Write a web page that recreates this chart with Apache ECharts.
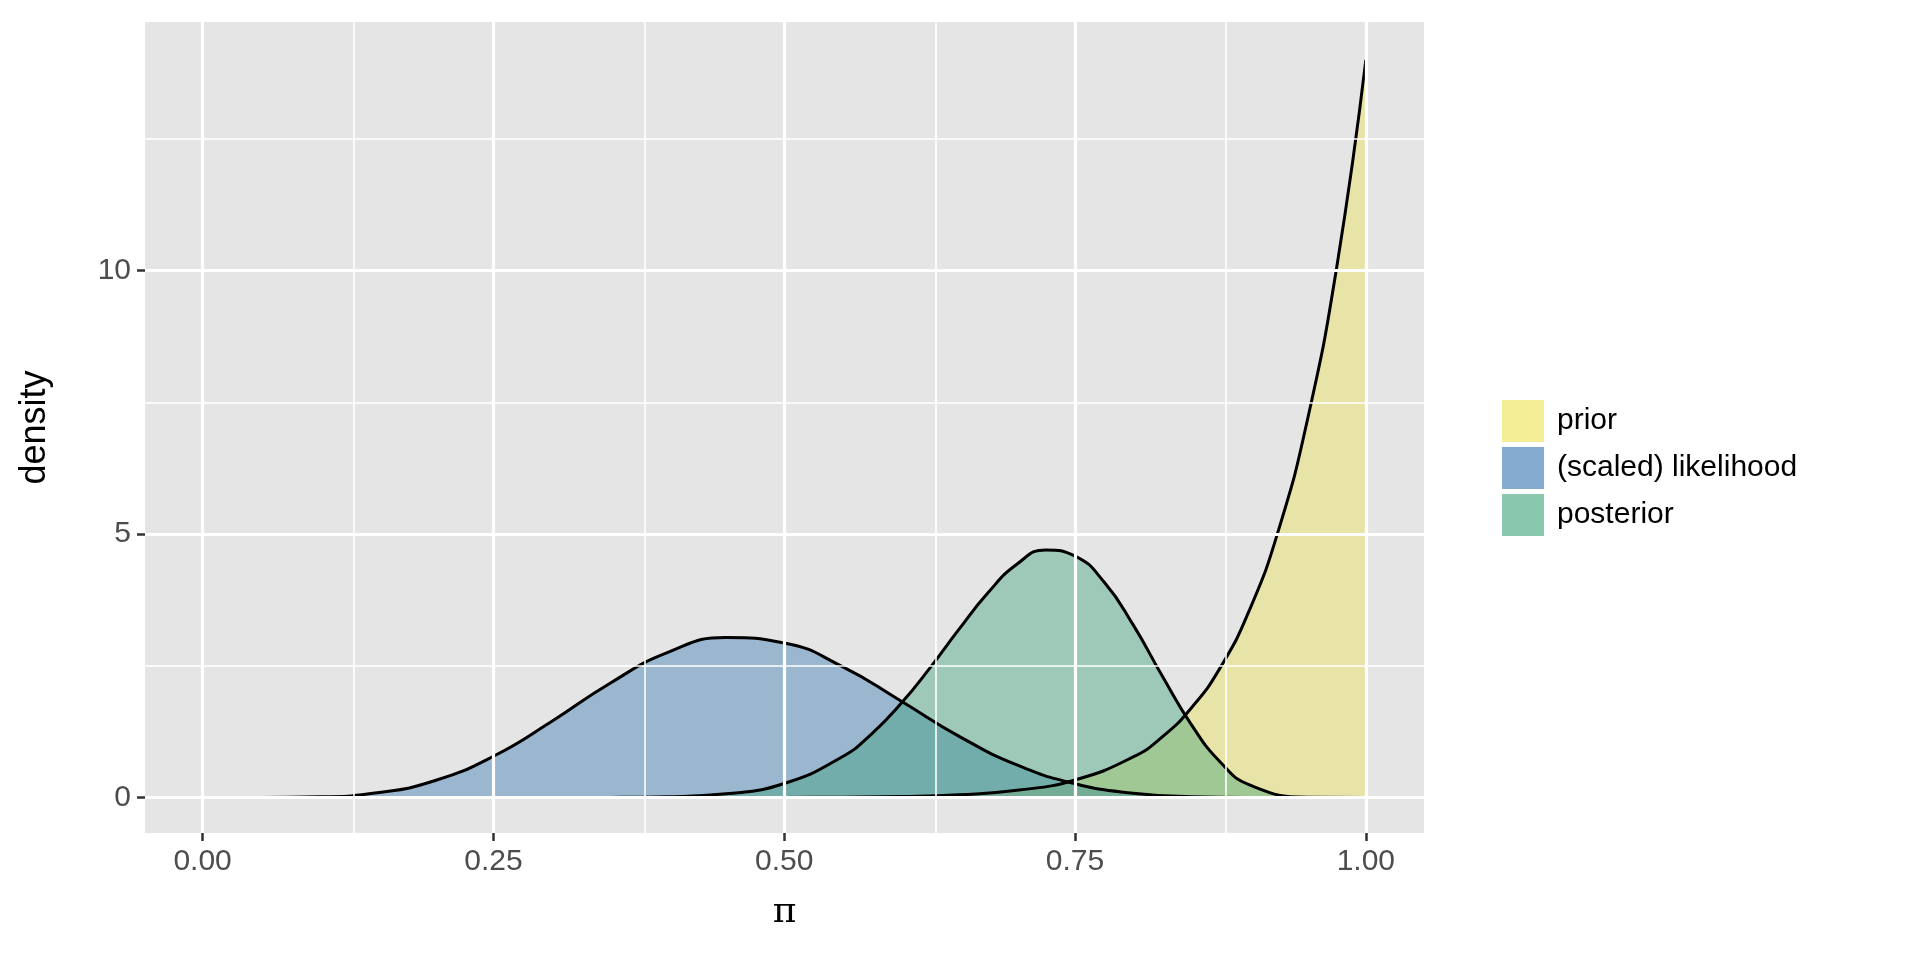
<!DOCTYPE html>
<html lang="en">
<head>
<meta charset="UTF-8">
<title>Prior, likelihood, posterior</title>
<script src="https://cdn.jsdelivr.net/npm/echarts@6/dist/echarts.min.js"></script>
<style>
  html, body { margin: 0; padding: 0; background: #fff; }
  #chart { width: 1920px; height: 960px; }
</style>
</head>
<body>
<div id="chart"></div>
<script>
    // values
    var priorPts = [[0, 0], [0.45, 0], [0.5, 0.002], [0.55, 0.006], [0.6, 0.018], [0.65, 0.052], [0.7, 0.136],
        [0.75, 0.333], [0.8, 0.77], [0.825, 1.15], [0.85, 1.70], [0.875, 2.47], [0.9, 3.56],
        [0.925, 5.08], [0.95, 7.19], [0.975, 10.07], [1, 14]];
    var likePts = [[0, 0], [0.05, 0], [0.1, 0.012], [0.15, 0.088], [0.2, 0.322], [0.25, 0.783], [0.3, 1.443],
        [0.35, 2.165], [0.4, 2.754], [0.45, 3.036], [0.5, 2.933], [0.55, 2.485], [0.6, 1.837],
        [0.65, 1.166], [0.7, 0.618], [0.75, 0.261], [0.8, 0.081], [0.85, 0.016], [0.9, 0.001], [0.95, 0], [1, 0]];
    var postPts = [[0, 0], [0.3, 0], [0.35, 0.002], [0.4, 0.014], [0.45, 0.07], [0.5, 0.265], [0.55, 0.774],
        [0.575, 1.204], [0.6, 1.773], [0.625, 2.45], [0.65, 3.185], [0.675, 3.88], [0.7, 4.427],
        [0.725, 4.70], [0.75, 4.583], [0.775, 4.09], [0.8, 3.276], [0.825, 2.305], [0.85, 1.384],
        [0.875, 0.67], [0.9, 0.24], [0.95, 0.005], [1, 0]];
    var xTicks = [0, 0.25, 0.5, 0.75, 1];
    var xMinor = [0.125, 0.375, 0.625, 0.875];
    var yTicks = [0, 5, 10];
    var yMinor = [2.5, 7.5, 12.5];

    var tickFont = { color: '#4d4d4d', fontSize: 30, fontFamily: 'Liberation Sans' };

    function gridLines() {
        var d = [];
        xTicks.forEach(function (v) { d.push({ xAxis: v, lineStyle: { width: 3.2 } }); });
        xMinor.forEach(function (v) { d.push({ xAxis: v, lineStyle: { width: 1.6 } }); });
        yTicks.forEach(function (v) { d.push({ yAxis: v, lineStyle: { width: 3.2 } }); });
        yMinor.forEach(function (v) { d.push({ yAxis: v, lineStyle: { width: 1.6 } }); });
        return d;
    }

    function curve(name, pts, fill) {
        return {
            name: name,
            type: 'line',
            data: pts,
            smooth: 0.5,
            symbol: 'none',
            z: 3,
            itemStyle: { color: fill },
            lineStyle: { color: '#000', width: 3 },
            areaStyle: { color: fill, origin: 0 }
        };
    }

    var option = {
        animation: false,
        backgroundColor: '#fff',
        grid: { left: 145, right: 496, top: 22, bottom: 127, backgroundColor: '#e5e5e5', show: true, borderWidth: 0 },
        legend: {
            orient: 'vertical',
            left: 1497,
            top: 395,
            icon: 'rect',
            itemWidth: 42,
            itemHeight: 42,
            itemGap: 5,
            textStyle: { color: '#000', fontSize: 30, fontFamily: 'Liberation Sans', padding: [0, 0, 0, 8] },
            data: ['prior', '(scaled) likelihood', 'posterior']
        },
        xAxis: {
            type: 'value',
            min: -0.0495,
            max: 1.05,
            name: 'π',
            nameLocation: 'middle',
            nameGap: 62,
            nameTextStyle: { color: '#000', fontSize: 36, fontFamily: 'DejaVu Serif' },
            splitLine: { show: false },
            axisLine: { show: true, onZero: false, lineStyle: { color: 'rgba(0,0,0,0)' } },
            axisTick: { show: true, customValues: xTicks, length: 8, lineStyle: { color: '#333', width: 2.5 } },
            axisLabel: Object.assign({ customValues: xTicks, margin: 14,
                formatter: function (v) { return v.toFixed(2); } }, tickFont)
        },
        yAxis: {
            type: 'value',
            min: -0.674,
            max: 14.72,
            name: 'density',
            nameLocation: 'middle',
            nameGap: 92,
            nameRotate: 90,
            nameTextStyle: { color: '#000', fontSize: 36, fontFamily: 'Liberation Sans' },
            splitLine: { show: false },
            axisLine: { show: true, onZero: false, lineStyle: { color: 'rgba(0,0,0,0)' } },
            axisTick: { show: true, customValues: yTicks, length: 8, lineStyle: { color: '#333', width: 2.5 } },
            axisLabel: Object.assign({ customValues: yTicks, margin: 14 }, tickFont)
        },
        series: [
            {
                type: 'line', data: [], z: 1, silent: true,
                markLine: { silent: true, symbol: 'none', label: { show: false },
                    lineStyle: { color: '#fff', type: 'solid' }, data: gridLines() }
            },
            curve('prior', priorPts, 'rgba(237,227,81,0.6)'),
            curve('(scaled) likelihood', likePts, 'rgba(52,116,177,0.6)'),
            curve('posterior', postPts, 'rgba(59,162,121,0.6)')
        ]
    };

    var myChart = echarts.init(document.getElementById('chart'));
    myChart.setOption(option);
</script>
</body>
</html>
